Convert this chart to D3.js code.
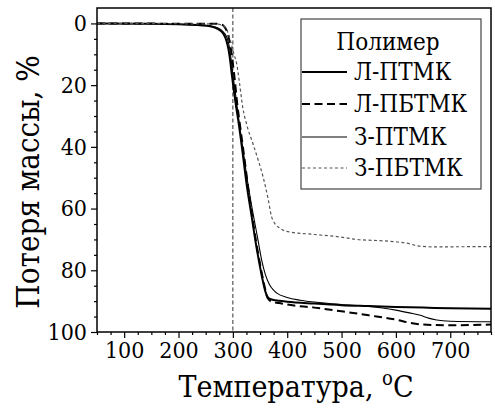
<!DOCTYPE html>
<html>
<head>
<meta charset="utf-8">
<script src="https://cdn.jsdelivr.net/npm/d3@7"></script>
<style>
  html, body { margin: 0; padding: 0; background: #fff; }
  svg { display: block; }
</style>
</head>
<body>
<svg id="chart" width="495" height="410"></svg>
<script>
// Температура, °C
const tempL_PTMK  = [50,150,200,240,258,268,276,283,288,292,295,298,302,306,310,318,326,335,342,348,354,360,364,370,385,400,450,500,550,600,650,700,775];
const lossL_PTMK  = [0,0.1,0.3,0.6,0.9,1.4,2.2,3.5,5.5,8.5,12,16.5,22,27,31.5,42,53,63,71,77,82.5,87,88.7,89.4,89.9,90.2,90.8,91.3,91.6,91.9,92.1,92.3,92.5];

const tempL_PBTMK = [50,150,200,250,270,278,284,289,293,297,300,304,308,312,320,328,336,343,349,355,360,364,372,385,400,450,500,550,600,625,650,700,775];
const lossL_PBTMK = [0,0.05,0.1,0.1,0.1,0.3,1,2.5,5,9,13,19,26,31.5,42,53,63,71,77,82.5,86.5,89,90.2,90.6,91.1,92.1,93.3,94.6,96,97,97.6,97.8,97.6];

const tempZ_PTMK  = [50,150,200,240,258,270,278,285,290,294,297,300,305,310,318,326,336,345,353,360,367,374,381,400,424,450,500,550,575,600,625,645,660,675,700,775];
const lossZ_PTMK  = [0,0.1,0.3,0.5,0.8,1.3,2,3.3,5,8,12,16.5,23,30,40,50,60.5,69,76.7,81.5,84.5,86.3,87.4,88.8,89.7,90.3,91.1,91.7,92.2,92.9,93.8,94.6,95.5,96.1,96.5,96.7];

const tempZ_PBTMK = [50,200,270,280,287,292,297,302,307,312,318,325,337,347,356,365,371,377,386,399,450,497,528,580,620,644,670,775];
const lossZ_PBTMK = [0,0.1,0.2,0.6,1.5,3.5,6.5,10,13,19,27,32.5,39,44.5,50,57,62.5,64.8,66.3,67.4,68.4,69.2,70,70.5,71.2,72.2,72.4,72.3];

const seriesNames = ["Л-ПТМК", "Л-ПБТМК", "З-ПТМК", "З-ПБТМК"];
const xTicks = [100, 200, 300, 400, 500, 600, 700];
const yTicks = [0, 20, 40, 60, 80, 100];
const markerTemp = 300;

const FONT = "DejaVu Serif Condensed";

const series = [
  { name: seriesNames[0], t: tempL_PTMK,  v: lossL_PTMK,  width: 2.0, dash: null,    color: "#000" },
  { name: seriesNames[1], t: tempL_PBTMK, v: lossL_PBTMK, width: 2.0, dash: "8,4.5", color: "#000" },
  { name: seriesNames[2], t: tempZ_PTMK,  v: lossZ_PTMK,  width: 1.1, dash: null,    color: "#000" },
  { name: seriesNames[3], t: tempZ_PBTMK, v: lossZ_PBTMK, width: 1.2, dash: "3,2.5", color: "#555" }
];

const svg = d3.select("#chart").attr("font-family", FONT);
const W = 495, H = 410;
const m = { left: 97, top: 8, right: 4, bottom: 78 };

const x = d3.scaleLinear().domain([50, 775]).range([m.left, W - m.right]);
const y = d3.scaleLinear().domain([-5, 100]).range([m.top, H - m.bottom]);

// minor ticks
const xMinor = d3.range(50, 776, 25).filter(v => v % 100 !== 0);
const yMinor = d3.range(5, 100, 5).filter(v => v % 20 !== 0);

const gx = svg.append("g").attr("transform", `translate(0,${H - m.bottom})`);
gx.append("g").call(d3.axisBottom(x).tickValues(xMinor).tickSize(3).tickFormat(""))
  .call(g => g.select(".domain").remove());
gx.append("g").call(d3.axisBottom(x).tickValues(xTicks).tickSize(6).tickSizeOuter(0).tickPadding(4))
  .attr("font-family", FONT).attr("font-size", 23)
  .call(g => g.select(".domain").remove());

const gy = svg.append("g").attr("transform", `translate(${m.left},0)`);
gy.append("g").call(d3.axisLeft(y).tickValues(yMinor).tickSize(3).tickFormat(""))
  .call(g => g.select(".domain").remove());
gy.append("g").call(d3.axisLeft(y).tickValues(yTicks).tickSize(6).tickSizeOuter(0).tickPadding(4))
  .attr("font-family", FONT).attr("font-size", 23)
  .call(g => g.select(".domain").remove());

svg.selectAll(".tick line").attr("stroke", "#000").attr("stroke-width", 1.2);
svg.selectAll(".tick text").attr("fill", "#000");

// reference line at 300 °C
svg.append("line")
  .attr("x1", x(markerTemp)).attr("x2", x(markerTemp))
  .attr("y1", m.top).attr("y2", H - m.bottom)
  .attr("stroke", "#333").attr("stroke-width", 1).attr("stroke-dasharray", "4,2.5");

svg.append("clipPath").attr("id", "plotclip").append("rect")
  .attr("x", m.left).attr("y", m.top)
  .attr("width", W - m.right - m.left).attr("height", H - m.bottom - m.top);

const line = d3.line().x(d => x(d[0])).y(d => y(d[1])).curve(d3.curveMonotoneX);

svg.append("g").attr("clip-path", "url(#plotclip)")
  .selectAll("path").data(series).join("path")
  .attr("d", s => line(s.t.map((t, i) => [t, s.v[i]])))
  .attr("fill", "none")
  .attr("stroke", s => s.color)
  .attr("stroke-width", s => s.width)
  .attr("stroke-dasharray", s => s.dash)
  .attr("stroke-linejoin", "round");

// frame
svg.append("rect")
  .attr("x", m.left).attr("y", m.top)
  .attr("width", W - m.right - m.left).attr("height", H - m.bottom - m.top)
  .attr("fill", "none").attr("stroke", "#000").attr("stroke-width", 1.5);

// legend
const lg = svg.append("g").attr("font-family", FONT).attr("font-size", 24);
lg.append("rect").attr("x", 301).attr("y", 19).attr("width", 180).attr("height", 170)
  .attr("fill", "#fff").attr("stroke", "#444").attr("stroke-width", 1.2);
lg.append("text").attr("x", 388).attr("y", 50).attr("text-anchor", "middle").text("Полимер");
const rowY = [72, 104, 137, 168];
series.forEach((s, i) => {
  lg.append("line").attr("x1", 302).attr("x2", 347).attr("y1", rowY[i]).attr("y2", rowY[i])
    .attr("stroke", s.color).attr("stroke-width", s.width).attr("stroke-dasharray", s.dash);
  lg.append("text").attr("x", 354).attr("y", rowY[i]).attr("dy", "0.35em").text(s.name);
});

// axis titles
const xt = svg.append("text").attr("x", (m.left + W - m.right) / 2 + 2).attr("y", 397)
  .attr("text-anchor", "middle").attr("font-family", FONT).attr("font-size", 30);
xt.append("tspan").text("Температура, ");
xt.append("tspan").attr("font-size", 20).attr("dy", -12).text("o");
xt.append("tspan").attr("dy", 12).text("C");

svg.append("text").attr("transform", "translate(39,182) rotate(-90)")
  .attr("text-anchor", "middle").attr("font-family", FONT).attr("font-size", 31)
  .text("Потеря массы, %");
</script>
</body>
</html>
